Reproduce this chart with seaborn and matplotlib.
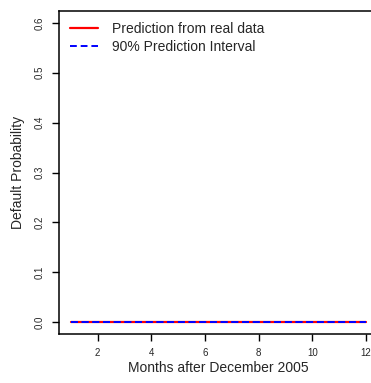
import numpy as np
import pandas as pd
import matplotlib
matplotlib.use("Agg")
import matplotlib.pyplot as plt
import seaborn as sns

months = [1, 2, 3, 4, 5, 6, 7, 8, 9, 10, 11, 12]
prediction = [0.0] * 12
lower90 = [0.0] * 12
upper90 = [0.0] * 12

sns.set_style("ticks")
plt.rcParams['font.family'] = ['Liberation Sans', 'DejaVu Sans']

fig = plt.figure(figsize=(3.71, 3.83), dpi=100)
ax = fig.add_axes([59/371, 49/383, (378-59)/371, (372-49)/383])

df = pd.DataFrame({"month": months, "pred": prediction, "lo": lower90, "hi": upper90})
sns.lineplot(data=df, x="month", y="pred", ax=ax, color="red", lw=1.6,
             label="Prediction from real data")
sns.lineplot(data=df, x="month", y="lo", ax=ax, color="blue", lw=1.4,
             linestyle=(0, (3.5, 2)), label="90% Prediction Interval")
sns.lineplot(data=df, x="month", y="hi", ax=ax, color="blue", lw=1.4,
             linestyle=(0, (3.5, 2)), legend=False)

ax.set_xlim(0.56, 12.44)
ax.set_ylim(-0.024, 0.624)
ax.set_xticks([2, 4, 6, 8, 10, 12])
ax.set_yticks([0.0, 0.1, 0.2, 0.3, 0.4, 0.5, 0.6])
ax.set_yticklabels(["0.0", "0.1", "0.2", "0.3", "0.4", "0.5", "0.6"], rotation=90, va="center")
ax.tick_params(axis="both", labelsize=7, length=5, width=1.0, color="black", pad=5)
for s in ax.spines.values():
    s.set_visible(True)
    s.set_color("black")
    s.set_linewidth(1.1)
ax.set_xlabel("Months after December 2005", fontsize=10, labelpad=2)
ax.set_ylabel("Default Probability", fontsize=10, labelpad=7)
leg = ax.legend(loc="upper left", frameon=False, fontsize=10, handlelength=2.0,
                bbox_to_anchor=(0.0, 1.0), borderaxespad=0.4, labelspacing=0.25,
                handletextpad=1.0)

fig.savefig("out.png", dpi=100)
